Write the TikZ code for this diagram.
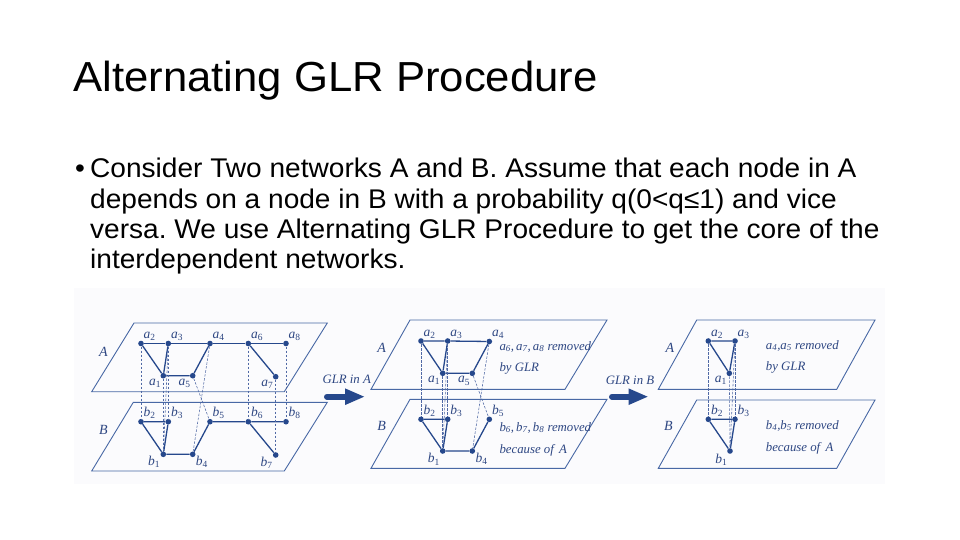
\documentclass[tikz,border=0pt]{standalone}
\usepackage{fontspec}
\newfontfamily\slidefont[FakeStretch=1.04]{Liberation Sans}
\newfontfamily\figfont{Liberation Serif}
\usepackage{xcolor}
\usetikzlibrary{arrows.meta}
\frenchspacing

\definecolor{netblue}{RGB}{38,72,140}
\definecolor{planeblue}{RGB}{72,104,165}
\definecolor{dashblue}{RGB}{80,105,165}
\definecolor{labblue}{RGB}{45,70,130}
\definecolor{figbg}{RGB}{251,251,253}

\newcommand{\vx}[2]{\textit{#1}\textsubscript{#2}}

\begin{document}
\begin{tikzpicture}[
  x=1pt, y=-1pt,
  title/.style={font=\slidefont\fontsize{42}{48}\selectfont, anchor=base west, inner sep=0pt},
  body/.style={font=\slidefont\fontsize{27}{30}\selectfont, anchor=base west, inner sep=0pt},
  dot/.style={circle, fill=netblue, inner sep=0pt, minimum size=5.6pt},
  lab/.style={font=\figfont\fontsize{13.5}{13.5}\selectfont, text=labblue, inner sep=0.4pt},
  link/.style={netblue, line width=1.3pt},
  dep/.style={dashblue, line width=0.55pt, dash pattern=on 2.5pt off 1.5pt},
  plane/.style={planeblue, line width=0.9pt},
  note/.style={font=\figfont\itshape\fontsize{12.8}{14}\selectfont, text=labblue, anchor=base west, inner sep=0pt},
  side/.style={font=\figfont\itshape\fontsize{14}{14}\selectfont, text=labblue, inner sep=0pt},
  glr/.style={-{Triangle[length=20pt,width=15pt]}, line width=6pt, line cap=round, netblue}
]
\useasboundingbox (0,0) rectangle (960,540);

% Title and bullet text
\node[title] (head) at (73,92) {Alternating GLR Procedure};
\node[body] (bullet) at (75,178) {\textbullet};
\node[body] (line1) at (90,178) {Consider Two networks A and B. Assume that each node in A};
\node[body] (line2) at (90,208) {depends on a node in B with a probability q(0<q≤1) and vice};
\node[body] (line3) at (90,238) {versa. We use Alternating GLR Procedure to get the core of the};
\node[body] (line4) at (90,268) {interdependent networks.};

% Figure background
\fill[figbg] (74,288) rectangle (885,484);

% Panel 1: planes
\draw[plane] (91.7,391.7) -- (284.3,391.7) -- (327.3,323) -- (134,323) -- cycle;
\draw[plane] (91.7,471) -- (284.3,471) -- (327.3,402.3) -- (133.3,402.3) -- cycle;
\node[side] (p1A) at (103.3,351.7) {A};
\node[side] (p1B) at (103.3,430) {B};

% Panel 1: nodes
\node[dot, label={[lab]45:\vx{a}{2}}] (p1a2) at (141,343.5) {};
\node[dot, label={[lab]45:\vx{a}{3}}] (p1a3) at (168.3,343.5) {};
\node[dot, label={[lab]45:\vx{a}{4}}] (p1a4) at (210,343.5) {};
\node[dot, label={[lab]45:\vx{a}{6}}] (p1a6) at (248.3,343.5) {};
\node[dot, label={[lab]45:\vx{a}{8}}] (p1a8) at (286,343.5) {};
\node[dot, label={[lab]235:\vx{a}{1}}] (p1a1) at (163.3,375.7) {};
\node[dot, label={[lab]240:\vx{a}{5}}] (p1a5) at (192.7,375.7) {};
\node[dot, label={[lab]235:\vx{a}{7}}] (p1a7) at (275.7,376.7) {};
\node[dot, label={[lab]45:\vx{b}{2}}] (p1b2) at (141,421.7) {};
\node[dot, label={[lab]45:\vx{b}{3}}] (p1b3) at (168.3,421.7) {};
\node[dot, label={[lab]45:\vx{b}{5}}] (p1b5) at (210,421.7) {};
\node[dot, label={[lab]45:\vx{b}{6}}] (p1b6) at (248.3,421.7) {};
\node[dot, label={[lab]45:\vx{b}{8}}] (p1b8) at (286,421.7) {};
\node[dot, label={[lab]210:\vx{b}{1}}] (p1b1) at (163.3,454.3) {};
\node[dot, label={[lab]-30:\vx{b}{4}}] (p1b4) at (192.7,454.3) {};
\node[dot, label={[lab]210:\vx{b}{7}}] (p1b7) at (275.7,455) {};

% Panel 1: links
\draw[link] (p1a2) -- (p1a3) -- (p1a4) -- (p1a6) -- (p1a8);
\draw[link] (p1a2) -- (p1a1) -- (p1a3);
\draw[link] (p1a1) -- (p1a5) -- (p1a4);
\draw[link] (p1a6) -- (p1a7);
\draw[link] (p1b2) -- (p1b3) -- (p1b1) -- (p1b2);
\draw[link] (p1b1) -- (p1b4) -- (p1b5) -- (p1b6) -- (p1b8);
\draw[link] (p1b6) -- (p1b7);

% Panel 1: dependencies
\draw[dep] (p1a2) -- (p1b2);
\draw[dep] (p1a1) -- (p1b1);
\draw[dep] (p1a3) -- (p1b3);
\draw[dep] (p1a3) -- (p1b1);
\draw[dep] (p1a4) -- (p1b4);
\draw[dep] (p1a5) -- (p1b5);
\draw[dep] (p1a6) -- (p1b6);
\draw[dep] (p1a7) -- (p1b7);
\draw[dep] (p1a8) -- (p1b8);

% Step 1: GLR in A
\node[note, anchor=center] (glrA) at (346.7,379.3) {GLR in A};
\coordinate (glrA-s) at (327,396.7);
\coordinate (glrA-e) at (365,396.7);
\draw[glr] (glrA-s) -- (glrA-e);

% Panel 2: planes
\draw[plane] (371,389.3) -- (565,389.3) -- (607,320) -- (410,320) -- cycle;
\draw[plane] (371,468.3) -- (565,468.3) -- (607,399.3) -- (410,399.3) -- cycle;
\node[side] (p2A) at (381.7,348.3) {A};
\node[side] (p2B) at (381.7,425.7) {B};

% Panel 2: nodes
\node[dot, label={[lab]45:\vx{a}{2}}] (p2a2) at (421,341) {};
\node[dot, label={[lab]45:\vx{a}{3}}] (p2a3) at (447.7,341) {};
\node[dot, label={[lab]45:\vx{a}{4}}] (p2a4) at (489.3,341.5) {};
\node[dot, label={[lab]225:\vx{a}{1}}] (p2a1) at (442.7,373.3) {};
\node[dot, label={[lab]240:\vx{a}{5}}] (p2a5) at (472.3,373.3) {};
\node[dot, label={[lab]45:\vx{b}{2}}] (p2b2) at (421,419.3) {};
\node[dot, label={[lab]45:\vx{b}{3}}] (p2b3) at (447.7,419.3) {};
\node[dot, label={[lab]45:\vx{b}{5}}] (p2b5) at (489.3,419.3) {};
\node[dot, label={[lab]220:\vx{b}{1}}] (p2b1) at (442.7,451) {};
\node[dot, label={[lab]-30:\vx{b}{4}}] (p2b4) at (472.3,451) {};

% Panel 2: links
\draw[link] (p2a2) -- (p2a3) -- (p2a4);
\draw[link] (p2a2) -- (p2a1) -- (p2a3);
\draw[link] (p2a1) -- (p2a5) -- (p2a4);
\draw[link] (p2b2) -- (p2b3) -- (p2b1) -- (p2b2);
\draw[link] (p2b1) -- (p2b4) -- (p2b5);

% Panel 2: dependencies
\draw[dep] (p2a2) -- (p2b2);
\draw[dep] (p2a1) -- (p2b1);
\draw[dep] (p2a3) -- (p2b3);
\draw[dep] (p2a3) -- (p2b1);
\draw[dep] (p2a4) -- (p2b4);
\draw[dep] (p2a5) -- (p2b5);

% Panel 2: notes
\node[note] (p2noteA) at (499.3,350) {\vx{a}{6},\,\vx{a}{7},\,\vx{a}{8} removed};
\node[note] (p2noteA2) at (499.3,371.5) {by GLR};
\node[note] (p2noteB) at (499.3,431) {\vx{b}{6},\,\vx{b}{7},\,\vx{b}{8} removed};
\node[note] (p2noteB2) at (499.3,453) {because of\, A};

% Step 2: GLR in B
\node[note, anchor=center] (glrB) at (630,380) {GLR in B};
\coordinate (glrB-s) at (612,396.7);
\coordinate (glrB-e) at (648.5,396.7);
\draw[glr] (glrB-s) -- (glrB-e);

% Panel 3: planes
\draw[plane] (658.3,389.3) -- (836.7,389.3) -- (875,320) -- (696.7,320) -- cycle;
\draw[plane] (658.3,468.3) -- (836.7,468.3) -- (875,400) -- (696.7,400) -- cycle;
\node[side] (p3A) at (670,348.3) {A};
\node[side] (p3B) at (668.3,425.7) {B};

% Panel 3: nodes
\node[dot, label={[lab]45:\vx{a}{2}}] (p3a2) at (708.3,341) {};
\node[dot, label={[lab]45:\vx{a}{3}}] (p3a3) at (735,341) {};
\node[dot, label={[lab]230:\vx{a}{1}}] (p3a1) at (729.3,373.3) {};
\node[dot, label={[lab]45:\vx{b}{2}}] (p3b2) at (708.3,419.3) {};
\node[dot, label={[lab]45:\vx{b}{3}}] (p3b3) at (735,419.3) {};
\node[dot, label={[lab]225:\vx{b}{1}}] (p3b1) at (730,451) {};

% Panel 3: links
\draw[link] (p3a2) -- (p3a3) -- (p3a1) -- (p3a2);
\draw[link] (p3b2) -- (p3b3) -- (p3b1) -- (p3b2);

% Panel 3: dependencies
\draw[dep] (p3a2) -- (p3b2);
\draw[dep] (p3a1) -- (p3b1);
\draw[dep] (p3a3) -- (p3b3);
\draw[dep] (p3a3) -- (p3b1);

% Panel 3: notes
\node[note] (p3noteA) at (765.7,349) {\vx{a}{4},\vx{a}{5} removed};
\node[note] (p3noteA2) at (765.7,370.5) {by GLR};
\node[note] (p3noteB) at (765.7,429) {\vx{b}{4},\vx{b}{5} removed};
\node[note] (p3noteB2) at (765.7,451.5) {because of\, A};

\end{tikzpicture}
\end{document}
